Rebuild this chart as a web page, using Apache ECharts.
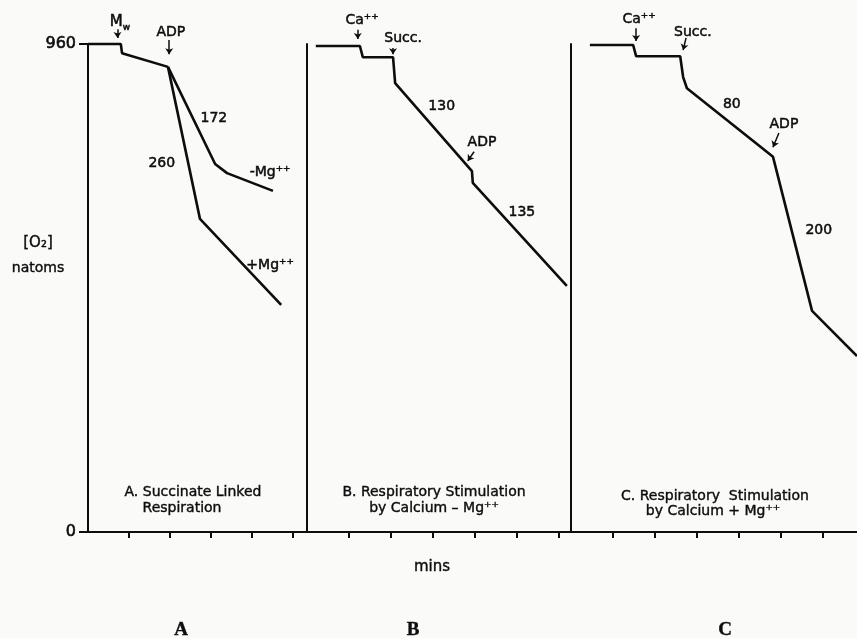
<!DOCTYPE html>
<html>
<head>
<meta charset="utf-8">
<title>Respiratory stimulation traces</title>
<script src="https://cdn.jsdelivr.net/npm/echarts@6/dist/echarts.min.js"></script>
<style>
html, body { margin: 0; padding: 0; background: #fafaf8; }
#chart { width: 857px; height: 638px; }
</style>
</head>
<body>
<div id="chart"></div>
<script>
// O2 axis (natoms) and the minute ticks of each panel
const yTicks = [0, 960]
const minTicksA = [1, 2, 3, 4, 5]
const minTicksB = [1, 2, 3, 4, 5, 6]
const minTicksC = [1, 2, 3, 4, 5, 6]

// A. succinate linked respiration, [mins, natoms]
const traceA = [[0, 960], [0.80, 960], [0.83, 942], [1.95, 915]]
const minusMgA = [[1.95, 915], [3.10, 724], [3.39, 706], [4.51, 671]]
const plusMgA = [[1.95, 915], [2.73, 616], [4.71, 447]]
// B. calcium - Mg++
const traceB = [[0.21, 956], [1.26, 956], [1.33, 934], [2.05, 934], [2.10, 883], [3.93, 710], [3.95, 687], [6.19, 484]]
// C. calcium + Mg++
const traceC = [[0.45, 958], [1.48, 958], [1.55, 936], [2.60, 936], [2.67, 895], [2.76, 873], [4.81, 738], [5.74, 435], [6.81, 346]]

// notes written on the traces: [mins, natoms, text]
const notesA = [[0.78, 1003, '{m|M}{w|w}'], [2.02, 982, 'ADP'], [3.07, 814, '172'], [1.80, 726, '260'], [4.44, 708, '-Mg⁺⁺'], [4.44, 525, '+Mg⁺⁺']]
const notesB = [[1.31, 1007, 'Ca⁺⁺'], [2.29, 972, 'Succ.'], [3.21, 838, '130'], [4.17, 767, 'ADP'], [5.12, 628, '135']]
const notesC = [[1.62, 1009, 'Ca⁺⁺'], [2.90, 982, 'Succ.'], [3.83, 842, '80'], [5.07, 801, 'ADP'], [5.90, 594, '200']]
// addition arrows: [from, to]
const arrowsA = [[[0.72, 989], [0.72, 972]], [[1.98, 968], [1.98, 940]]]
const arrowsB = [[[1.21, 988], [1.21, 970]], [[2.05, 952], [2.05, 940]], [[3.98, 748], [3.83, 730]]]
const arrowsC = [[[1.55, 991], [1.55, 966]], [[2.74, 972], [2.67, 948]], [[4.95, 785], [4.81, 757]]]

const ink = '#0d0d0d'
const font = 'DejaVu Sans'

function traceSeries(idx, data) {
  return {
    type: 'line',
    xAxisIndex: idx,
    yAxisIndex: idx,
    data: data,
    symbol: 'none',
    clip: false,
    silent: true,
    lineStyle: { color: ink, width: 2.6 },
  }
}

function noteSeries(idx, notes) {
  return {
    type: 'scatter',
    xAxisIndex: idx,
    yAxisIndex: idx,
    data: notes,
    symbolSize: 0,
    clip: false,
    silent: true,
    itemStyle: { opacity: 1 },
    label: {
      show: true,
      position: 'inside',
      formatter: (p) => p.data[2],
      color: ink,
      fontFamily: font,
      fontSize: 14,
      textBorderColor: ink,
      textBorderWidth: 0.5,
      rich: {
        m: { fontFamily: font, fontSize: 15, color: ink, lineHeight: 20, verticalAlign: 'middle' },
        w: { fontFamily: font, fontSize: 9, color: ink, lineHeight: 20, verticalAlign: 'bottom' },
      },
    },
  }
}

function arrowSeries(idx, arrows) {
  return {
    type: 'lines',
    coordinateSystem: 'cartesian2d',
    xAxisIndex: idx,
    yAxisIndex: idx,
    clip: false,
    silent: true,
    symbol: ['none', 'arrow'],
    symbolSize: 6,
    lineStyle: { color: ink, width: 1.5, opacity: 1, curveness: 0 },
    data: arrows.map((a) => ({ coords: a })),
  }
}

function xAxisFor(idx, max, ticks) {
  return {
    type: 'value',
    gridIndex: idx,
    min: 0,
    max: max,
    axisLine: { show: true, onZero: false, lineStyle: { color: ink, width: 2 } },
    axisTick: { show: true, length: 6, customValues: ticks, lineStyle: { color: ink, width: 2 } },
    axisLabel: { show: false },
    splitLine: { show: false },
  }
}

function yAxisFor(idx, withLabels) {
  return {
    type: 'value',
    gridIndex: idx,
    min: yTicks[0],
    max: yTicks[1],
    interval: yTicks[1] - yTicks[0],
    axisLine: { show: true, onZero: false, lineStyle: { color: ink, width: 2 } },
    axisTick: { show: withLabels, length: 9, lineStyle: { color: ink, width: 2 } },
    axisLabel: {
      show: withLabels, margin: 12, color: ink, fontFamily: font, fontSize: 16,
      textBorderColor: ink, textBorderWidth: 0.6,
    },
    splitLine: { show: false },
  }
}

function note(text, x, y, size, family, weight) {
  return {
    type: 'text',
    x: x,
    y: y,
    silent: true,
    style: {
      text: text,
      align: 'center',
      verticalAlign: 'middle',
      fill: ink,
      stroke: ink,
      lineWidth: 0.4,
      fontFamily: family || font,
      fontSize: size,
      fontWeight: weight || 'normal',
    },
  }
}

const chart = echarts.init(document.getElementById('chart'))
chart.setOption({
  backgroundColor: '#fafaf8',
  animation: false,
  grid: [
    { left: 88, right: 550, top: 44, bottom: 106 },
    { left: 307, right: 286, top: 44, bottom: 106 },
    { left: 571, right: 0, top: 44, bottom: 106 },
  ],
  xAxis: [xAxisFor(0, 5.34, minTicksA), xAxisFor(1, 6.29, minTicksB), xAxisFor(2, 6.81, minTicksC)],
  yAxis: [yAxisFor(0, true), yAxisFor(1, false), yAxisFor(2, false)],
  series: [
    traceSeries(0, traceA),
    traceSeries(0, minusMgA),
    traceSeries(0, plusMgA),
    traceSeries(1, traceB),
    traceSeries(2, traceC),
    noteSeries(0, notesA),
    noteSeries(1, notesB),
    noteSeries(2, notesC),
    arrowSeries(0, arrowsA),
    arrowSeries(1, arrowsB),
    arrowSeries(2, arrowsC),
  ],
  graphic: [
    note('[O₂]', 38, 243, 15),
    note('natoms', 38, 268, 14),
    note('A. Succinate Linked', 193, 492, 14),
    note('Respiration', 182, 508, 14),
    note('B. Respiratory Stimulation', 434, 492, 14),
    note('by Calcium – Mg⁺⁺', 434, 508, 14),
    note('C. Respiratory  Stimulation', 715, 496, 14),
    note('by Calcium + Mg⁺⁺', 713, 511, 14),
    note('mins', 432, 567, 15),
    note('A', 181, 630, 19, 'Liberation Serif', 'bold'),
    note('B', 413, 630, 19, 'Liberation Serif', 'bold'),
    note('C', 725, 630, 19, 'Liberation Serif', 'bold'),
  ],
})
</script>
</body>
</html>
